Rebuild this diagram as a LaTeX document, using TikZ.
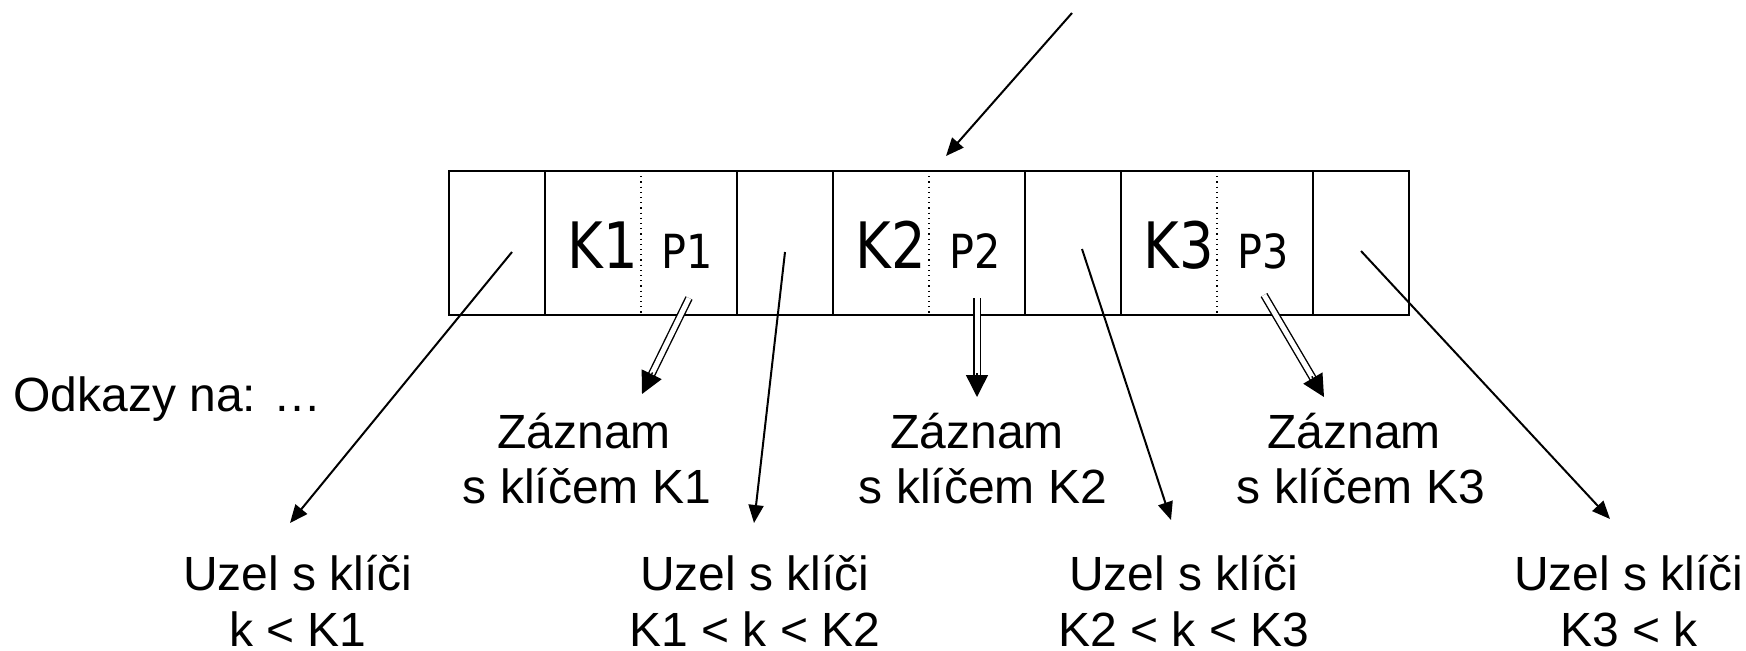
\documentclass[tikz,border=0pt]{standalone}
\usepackage{fontspec}
\setmainfont{Liberation Sans}
\newfontfamily\kfont[FakeStretch=0.85]{DejaVu Sans}
\newfontfamily\pfont[FakeStretch=0.88]{DejaVu Sans}
\usetikzlibrary{arrows.meta,calc}
\begin{document}
\begin{tikzpicture}[x=0.5pt,y=-0.5pt,
  lbl/.style={font=\fontsize{24}{28}\selectfont, inner sep=0pt, anchor=base},
  kl/.style={font=\kfont\fontsize{32}{36}\selectfont, inner sep=0pt, anchor=base},
  pl/.style={font=\pfont\fontsize{23.5}{27}\selectfont, inner sep=0pt, anchor=base},
  frame/.style={line width=1pt},
  sep/.style={line width=0.6pt, dotted},
  ptr/.style={line width=1pt, -{Triangle[length=9pt,width=7.5pt]}},
  dshaft/.style={double, double distance=2.5pt, line width=0.7pt, shorten >=9pt},
  dtip/.style={line width=0.7pt, -{Triangle[length=11pt,width=11pt]}}]
\useasboundingbox (0,0) rectangle (1746,650);
% record box
\draw[frame] (449,171) rectangle (1409,315);
\foreach \xx in {545,737,833,1025,1121,1313} \draw[frame] (\xx,171) -- (\xx,315);
\foreach \xx in {641,929,1217} \draw[sep] (\xx,171) -- (\xx,315);
% keys and pointers
\node[kl] (k1) at (603,268) {K1};
\node[pl] (p1) at (687,268) {P1};
\node[kl] (k2) at (891,268) {K2};
\node[pl] (p2) at (975,268) {P2};
\node[kl] (k3) at (1179,268) {K3};
\node[pl] (p3) at (1263,268) {P3};
% texts
\node[lbl, anchor=base west] (odk) at (13,411) {Odkazy na: …};
\node[lbl] (z1a) at (584,448) {Záznam};
\node[lbl] (z1b) at (587,503) {s klíčem K1};
\node[lbl] (z2a) at (977,448) {Záznam};
\node[lbl] (z2b) at (983,503) {s klíčem K2};
\node[lbl] (z3a) at (1354,448) {Záznam};
\node[lbl] (z3b) at (1361,503) {s klíčem K3};
\node[lbl] (u1a) at (298,590) {Uzel s klíči};
\node[lbl] (u1b) at (298,646) {k < K1};
\node[lbl] (u2a) at (755,590) {Uzel s klíči};
\node[lbl] (u2b) at (755,646) {K1 < k < K2};
\node[lbl] (u3a) at (1184,590) {Uzel s klíči};
\node[lbl] (u3b) at (1184,646) {K2 < k < K3};
\node[lbl] (u4a) at (1629,590) {Uzel s klíči};
\node[lbl] (u4b) at (1629,646) {K3 < k};
% connector ends
\coordinate (top) at (1072,13);
\coordinate (topE) at (946,156);
\coordinate (c0) at (512,252);
\coordinate (c0E) at (290,523);
\coordinate (c3) at (785,252);
\coordinate (c3E) at (754,523);
\coordinate (c6) at (1082,249);
\coordinate (c6E) at (1171,520);
\coordinate (c9) at (1361,251);
\coordinate (c9E) at (1610,519);
\coordinate (d1) at (689,298);
\coordinate (d1E) at (642,394);
\coordinate (d2) at (977,298);
\coordinate (d2E) at (977,397);
\coordinate (d3) at (1264,295);
\coordinate (d3E) at (1324,397);
% single pointers
\draw[ptr] (top) -- (topE);
\draw[ptr] (c0) -- (c0E);
\draw[ptr] (c3) -- (c3E);
\draw[ptr] (c6) -- (c6E);
\draw[ptr] (c9) -- (c9E);
% double pointers
\foreach \s/\e in {d1/d1E,d2/d2E,d3/d3E}{
  \draw[dshaft] (\s) -- (\e);
  \draw[dtip] ($(\e)!12pt!(\s)$) -- (\e);
}
\end{tikzpicture}
\end{document}
